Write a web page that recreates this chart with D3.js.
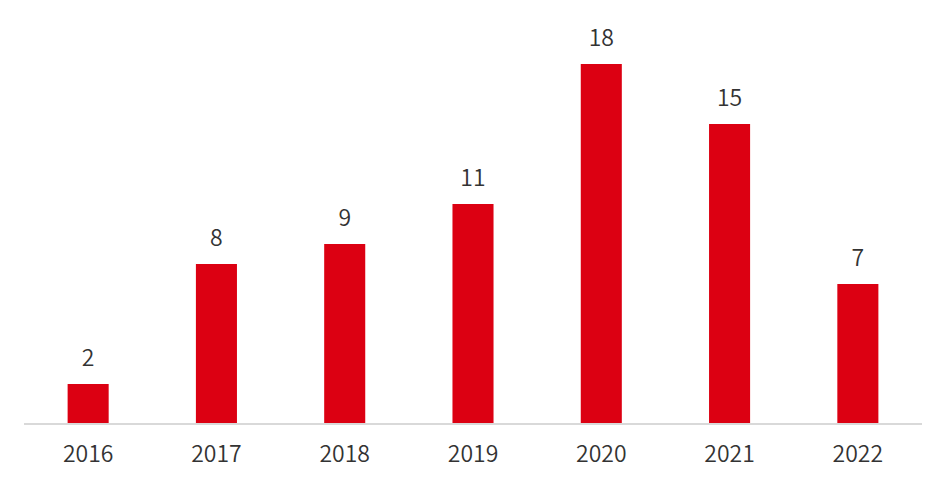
<!DOCTYPE html>
<html><head><meta charset="utf-8">
<script src="https://cdn.jsdelivr.net/npm/d3@7"></script>
<style>body{margin:0;background:#fff;}svg{display:block;}</style>
</head><body>
<svg id="c" width="946" height="478"></svg>
<script>
const categories = ["2016","2017","2018","2019","2020","2021","2022"];
const values = [2, 8, 9, 11, 18, 15, 7];

const svg = d3.select("#c");
const baseY = 424, left = 24, right = 922;
const x = d3.scaleBand().domain(categories).range([left, right]).paddingInner(0.68).paddingOuter(0.34);
const y = d3.scaleLinear().domain([0, 18]).range([baseY, 64]);
const font = "'Noto Sans CJK SC', 'Noto Sans', sans-serif";

svg.selectAll("rect.bar").data(values).join("rect")
  .attr("class","bar")
  .attr("x",(d,i)=>x(categories[i]))
  .attr("width",x.bandwidth())
  .attr("y",d=>y(d))
  .attr("height",d=>baseY-y(d))
  .attr("fill","#DC0012");

const axis = d3.axisBottom(x).tickSize(0).tickPadding(0);
const g = svg.append("g").attr("transform",`translate(0,${baseY})`).call(axis);
g.select(".domain").attr("stroke","#d9d9d9").attr("stroke-width",2).attr("d",`M${left},0H${right}`);
g.selectAll("text").attr("font-family",font).attr("font-size",23).attr("font-weight",350).attr("fill","#333333").attr("dy",null).attr("y",38);

svg.selectAll("text.lbl").data(values).join("text")
  .attr("class","lbl")
  .attr("x",(d,i)=>x(categories[i])+x.bandwidth()/2)
  .attr("y",d=>y(d)-18)
  .attr("text-anchor","middle")
  .attr("font-family",font).attr("font-size",23).attr("font-weight",350).attr("fill","#333333")
  .text(d=>d);
</script>
</body></html>
